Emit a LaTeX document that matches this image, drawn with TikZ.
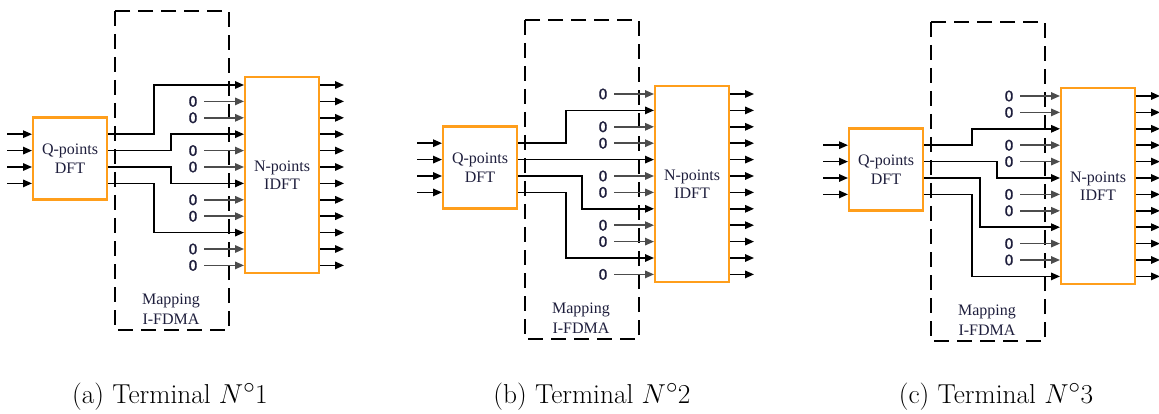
\documentclass[tikz,border=0pt]{standalone}
\usepackage{fontspec}
\newfontfamily\timesf{Liberation Serif}
\newfontfamily\zerof[FakeBold=1]{DejaVu Sans}
\usetikzlibrary{arrows.meta}
\definecolor{boxorange}{RGB}{255,158,27}
\definecolor{txt}{RGB}{30,30,60}
\tikzset{
  arr/.style={-{Triangle[length=9pt,width=7.5pt]}},
  sig/.style={draw=black,line width=1.5pt},
  zline/.style={draw=black!70,line width=1.5pt},
  dftbox/.style={draw=boxorange,line width=2.5pt,outer sep=0pt,minimum width=74pt,minimum height=82pt,inner sep=0pt,align=center,text=txt,font=\timesf\fontsize{16}{18.5}\selectfont},
  idftbox/.style={dftbox,minimum height=196pt},
  mapbox/.style={draw=black,line width=2.5pt,dash pattern=on 15pt off 8pt},
  lbl/.style={align=center,text=txt,inner sep=0pt,font=\timesf\fontsize{16}{20}\selectfont},
  zero/.style={inner sep=0pt,text=txt,font=\zerof\fontsize{14.5}{16}\selectfont},
  captext/.style={inner sep=0pt,scale=1.1,font=\fontsize{24.88}{30}\selectfont}
}
% #1 prefix, #2 X0, #3 T, #4 zero rows, #5 routes out/row/xv
\newcommand\drawpanel[5]{%
\begin{scope}[shift={(#2,#3)}]
  \draw[mapbox] (82,-66) rectangle (196,253);
  \node[dftbox,anchor=north west] (#1dft) at (0,40.6) {Q-points\\DFT};
  \node[idftbox,anchor=north west] (#1idft) at (212,0) {N-points\\IDFT};
  \node[lbl] (#1map) at (138,232) {Mapping\\I-FDMA};
  \foreach \k in {1,...,12}{
    \coordinate (#1r\k) at (211,{8+16.4*(\k-1)});
    \coordinate (#1s\k) at (287,{8+16.4*(\k-1)});
    \coordinate (#1e\k) at (311,{8+16.4*(\k-1)});
    \draw[sig,arr] (#1s\k) -- (#1e\k);
  }
  \foreach \k in {1,...,4}{
    \coordinate (#1i\k) at (-26,{8+16.4*(\k+2)});
    \coordinate (#1d\k) at (-1,{8+16.4*(\k+2)});
    \coordinate (#1o\k) at (75,{8+16.4*(\k+2)});
    \draw[sig,arr] (#1i\k) -- (#1d\k);
  }
  \foreach \k in {#4}{
    \node[zero] (#1z\k) at (160,{8+16.4*(\k-1)}) {0};
    \draw[zline,arr] (#1z\k.center) ++(11,0) -- (#1r\k);
  }
  \foreach \a/\b/\v in {#5}{
    \draw[sig,arr] (#1o\a) -- ++({\v-75},0) |- (#1r\b);
  }
\end{scope}}
\begin{document}
\begin{tikzpicture}[x=1pt,y=-1pt]
\useasboundingbox (0,0) rectangle (1159,414);
\drawpanel{a}{33}{77}{2,3,5,6,8,9,11,12}{1/1/121,2/4/138,3/7/138,4/10/121}
\drawpanel{b}{443}{86}{1,3,4,6,7,9,10,12}{1/2/123,2/5/123,3/8/139,4/11/123}
\drawpanel{c}{849}{88}{1,2,4,5,7,8,10,11}{1/3/123,2/6/148,3/9/131,4/12/123}
\node[captext] (capa) at (170,397) {(a) Terminal $N^\circ1$};
\node[captext] (capb) at (592,397) {(b) Terminal $N^\circ2$};
\node[captext] (capc) at (996,397) {(c) Terminal $N^\circ3$};
\end{tikzpicture}
\end{document}
